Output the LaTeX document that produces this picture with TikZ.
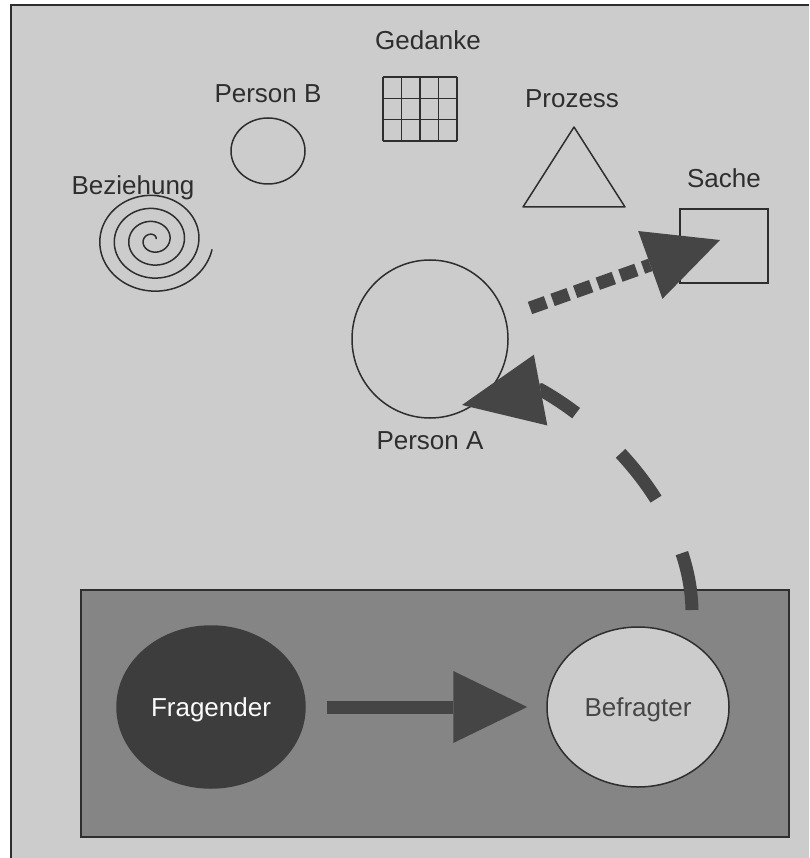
\documentclass[tikz,border=0pt]{standalone}
\usepackage{fontspec}
\setmainfont{Liberation Sans}
\usetikzlibrary{positioning,arrows.meta,shapes.geometric}
\definecolor{paper}{gray}{0.80}
\definecolor{panel}{gray}{0.52}
\definecolor{ink}{gray}{0.18}
\definecolor{darkblob}{gray}{0.24}
\definecolor{arrowgray}{gray}{0.27}

\begin{document}
\begin{tikzpicture}[x=1pt, y=-1pt,
  lbl/.style={text=ink, font=\fontsize{26}{30}\selectfont, inner sep=0pt, text height=19pt, text depth=0pt},
  blob/.style={ellipse, draw=ink, line width=1.5pt, inner sep=0pt},
  outline/.style={draw=ink, line width=1.5pt},
  fat/.style={draw=arrowgray, line width=13pt, -{Triangle[length=74pt,width=72pt,line width=0pt]}}]

\useasboundingbox (0,0) rectangle (809,858);
\fill[paper] (11,5) rectangle (809,858);
\draw[ink, line width=1.2pt] (11,858) -- (11,5) -- (809,5);

% upper part
\node[lbl] (gedanke) at (428,40.5) {Gedanke};
\foreach \i in {0,...,4}
  \draw[outline] ({383+\i*18.5},77) -- ({383+\i*18.5},141);
\foreach \j in {0,...,3}
  \draw[outline] (383,{77+\j*21.33}) -- (457,{77+\j*21.33});

\node[blob, minimum width=74pt, minimum height=66pt] (pB) at (268,151) {};
\node[lbl, above=15pt of pB] (pBlabel) {Person B};

\draw[outline, line join=round] (574,127) -- (625,207) -- (523,207) -- cycle;
\node[lbl] (prozess) at (572,98) {Prozess};

\node[outline, rectangle, minimum width=88pt, minimum height=74pt] (sache) at (724,246) {};
\node[lbl, above=21pt of sache] (sachelabel) {Sache};

\node[lbl] (beziehung) at (133,185) {Beziehung};
\draw[outline] plot[domain=80:1490, samples=260, smooth]
  ({153+\x/360*14.5*cos(60-\x)}, {240+0.9*\x/360*14.5*sin(60-\x)});

\node[blob, minimum width=156pt, minimum height=158pt] (pA) at (430,339) {};
\node[lbl, below=12pt of pA] (pAlabel) {Person A};

% lower panel
\node[draw=ink, fill=panel, line width=1.2pt, minimum width=708pt, minimum height=247pt, inner sep=0pt] (panel) at (435,713.5) {};
\node[blob, draw=darkblob, fill=darkblob, minimum width=188pt, minimum height=162pt, lbl, text=white!92!paper] (frag) at (211,707) {Fragender};
\node[blob, fill=paper, minimum width=182pt, minimum height=160pt, lbl, text=ink!85!paper] (bef) at (638,707) {Befragter};

\coordinate (pAout) at (530,308);
\coordinate (sacheIn) at (720,240);
\coordinate (befOut) at (692,610);
\coordinate (headBase) at (541,390);
\coordinate (pAin) at (462,405);

\draw[fat] (frag.east) -- (bef.west) [shorten <=21pt, shorten >=19pt];
\draw[fat, dash pattern=on 17pt off 7pt] (pAout) -- (sacheIn);
\draw[fat, dash pattern=on 58pt off 60pt,
  -{Triangle[length=80pt,width=72pt,line width=0pt]}]
  (befOut) .. controls (690,515) and (612,430) .. (headBase) -- (pAin);
\end{tikzpicture}
\end{document}
